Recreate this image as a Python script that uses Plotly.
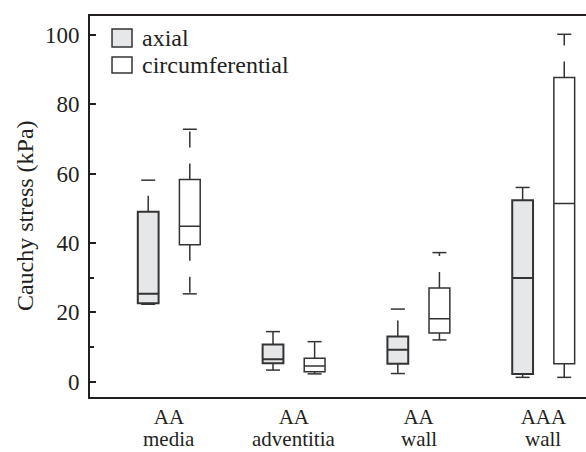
import plotly.graph_objects as go

cat_line1 = ["AA", "AA", "AA", "AAA"]
cat_line2 = ["media", "adventitia", "wall", "wall"]
positions = [1, 2, 3, 4]

# axial stresses (kPa): lower whisker, Q1, median, Q3, upper whisker
axial_low = [22.3, 3.3, 2.3, 1.2]
axial_q1 = [22.6, 5.3, 5.1, 2.2]
axial_med = [25.3, 6.4, 9.2, 29.9]
axial_q3 = [49.0, 10.7, 13.0, 52.3]
axial_high = [58.1, 14.4, 20.9, 56.0]

# circumferential stresses (kPa)
circ_low = [25.3, 2.2, 12.0, 1.2]
circ_q1 = [39.5, 2.8, 14.0, 5.1]
circ_med = [44.8, 4.5, 18.1, 51.4]
circ_q3 = [58.3, 6.7, 27.0, 87.7]
circ_high = [72.8, 11.5, 37.2, 100.2]

y_ticks = [0, 20, 40, 60, 80, 100]
y_minor = [10, 30]

INK = "#231f20"
BOXLINE = "#333333"
AXIAL_FILL = "#e6e7e8"
FONT = "Liberation Serif"
FS = 23
XFS = 21

offset = 0.1667
box_w = 0.1667

fig = go.Figure()

series = [
    (-offset, axial_low, axial_q1, axial_med, axial_q3, axial_high, AXIAL_FILL, 2.0),
    (offset, circ_low, circ_q1, circ_med, circ_q3, circ_high, "white", 1.5),
]

for off, lo, q1, med, q3, hi, fill, lw in series:
    xs = [p + off for p in positions]
    # dashed whiskers
    wx, wy = [], []
    for x, a, b, c, d in zip(xs, lo, q1, q3, hi):
        wx += [x, x, None, x, x, None]
        wy += [c, d, None, b, a, None]
    fig.add_trace(go.Scatter(x=wx, y=wy, mode="lines",
                             line=dict(color=BOXLINE, width=1.5, dash="16px,16px"),
                             showlegend=False, hoverinfo="skip"))
    # caps
    fig.add_trace(go.Scatter(x=xs + xs, y=lo + hi, mode="markers",
                             marker=dict(symbol="line-ew", size=10,
                                         line=dict(color=BOXLINE, width=1.5)),
                             showlegend=False, hoverinfo="skip"))
    # boxes
    fig.add_trace(go.Box(x=xs, q1=q1, median=med, q3=q3, lowerfence=q1, upperfence=q3,
                         width=box_w, whiskerwidth=0, fillcolor=fill,
                         line=dict(color=BOXLINE, width=lw),
                         showlegend=False, hoverinfo="skip"))

# second line of the category labels
for p, txt in zip(positions, cat_line2):
    fig.add_annotation(xref="x", yref="paper", x=p, y=-0.1102, text=txt, showarrow=False,
                       xanchor="center", yanchor="middle", height=22, borderpad=0,
                       font=dict(family=FONT, size=XFS, color=INK))

# legend (drawn manually)
leg = [("axial", AXIAL_FILL, 0.966, 0.9186), ("circumferential", "white", 0.8924, 0.8504)]
for name, fill, ytop, ybot in leg:
    fig.add_shape(type="rect", xref="paper", yref="paper", x0=0.0444, x1=0.0847,
                  y0=ybot, y1=ytop, fillcolor=fill, line=dict(color=BOXLINE, width=1.5))
    fig.add_annotation(xref="paper", yref="paper", x=0.1008, y=(ytop + ybot) / 2,
                       text=name, showarrow=False, xanchor="left", yanchor="middle",
                       font=dict(family=FONT, size=FS + 1, color=INK))

# y-axis title
fig.add_annotation(xref="paper", yref="paper", x=-0.131, y=0.475, text="Cauchy stress (kPa)",
                   textangle=-90, showarrow=False, xanchor="center", yanchor="middle",
                   font=dict(family=FONT, size=FS + 1, color=INK))

fig.update_layout(
    width=586, height=452,
    margin=dict(l=90, r=0, t=16, b=55, autoexpand=False),
    paper_bgcolor="white", plot_bgcolor="white",
    font=dict(family=FONT, size=FS, color=INK),
    showlegend=False,
)
fig.update_xaxes(range=[0.367, 4.341], tickvals=positions, ticktext=cat_line1,
                 showgrid=False, zeroline=False, showline=True, linecolor=INK, linewidth=2,
                 mirror=True, ticks="", ticklabelstandoff=0, automargin=False,
                 tickfont=dict(family=FONT, size=XFS, color=INK))
fig.update_yaxes(range=[-4.47, 105.48], tickvals=y_ticks, showgrid=False, zeroline=False,
                 showline=True, linecolor=INK, linewidth=2, ticks="inside", ticklen=6,
                 tickwidth=1.5, tickcolor=INK, ticklabelstandoff=4, automargin=False,
                 minor=dict(tickvals=y_minor, ticks="inside", ticklen=4, tickwidth=1.5, tickcolor=INK),
                 tickfont=dict(family=FONT, size=FS, color=INK))

fig.write_html("out.html")
